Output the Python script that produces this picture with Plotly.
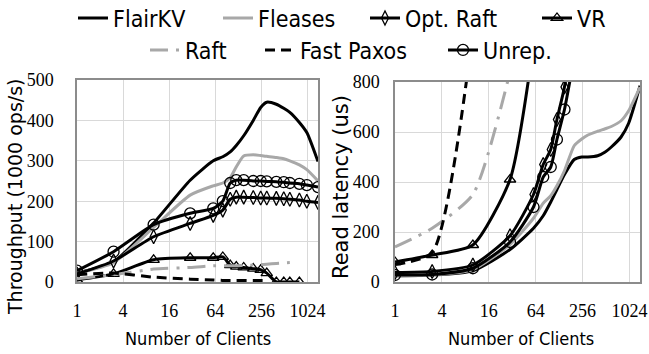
import plotly.graph_objects as go

# ---------------- data ----------------
clients = [1, 3, 10, 30, 60, 80, 100, 120, 150, 200, 250, 300, 400, 500, 600, 800, 1000, 1400]
x_ticks = [1, 4, 16, 64, 256, 1024]
x_tick_labels = ["1", "4", "16", "64", "256", "1024"]

# throughput (1000 ops/s)
flair_tp = [22, 50, 146, 252, 300, 310, 322, 338, 362, 400, 432, 445, 440, 430, 420, 395, 370, 298]
fleases_tp = [22, 48, 135, 215, 238, 245, 258, 285, 312, 315, 313, 311, 308, 305, 300, 290, 278, 250]
optraft_tp = [20, 52, 112, 145, 165, 178, 205, 210, 210, 209, 208, 208, 207, 206, 205, 203, 200, 197]
vr_tp = [5, 20, 55, 60, 60, 62, 42, 38, 36, 33, 30, 22, 0, 0, 0, 0]
raft_tp = [8, 18, 32, 36, 40, 40, 40, 40, 41, 42, 43, 44, 46, 47, 48]
fastpaxos_tp = [18, 22, 12, 7, 5, 4, 4, 4, 4, 4, 4, 4]
unrep_tp = [28, 75, 142, 170, 182, 200, 245, 252, 252, 250, 250, 249, 248, 247, 245, 243, 240, 235]

# read latency (us)
flair_lat = [25, 28, 45, 130, 215, 265, 320, 370, 430, 490, 500, 500, 505, 520, 540, 580, 635, 785]
fleases_lat = [25, 28, 50, 150, 255, 315, 345, 385, 445, 545, 572, 588, 603, 613, 622, 645, 685, 780]
optraft_lat = [38, 42, 68, 185, 350, 470, 530, 650, 780, 1050]
vr_lat = [80, 108, 148, 410, 950]
raft_lat = [140, 215, 350, 840]
fastpaxos_lat = [70, 118, 1000]
unrep_lat = [28, 30, 55, 160, 300, 420, 460, 570, 690, 900]

# ---------------- styling ----------------
W, H = 649, 354
def cx(p):
    return p / W
def cy(p):
    return 1 - p / H

BLACK = "black"
GRAY = "#a8a8a8"
series = [
    dict(name="FlairKV", color=BLACK, dash="solid", symbol=None, tp=flair_tp, lat=flair_lat, lx=73, ly=18),
    dict(name="Fleases", color=GRAY, dash="solid", symbol=None, tp=fleases_tp, lat=fleases_lat, lx=218, ly=18),
    dict(name="Opt. Raft", color=BLACK, dash="solid", symbol="diamond-tall-open", tp=optraft_tp, lat=optraft_lat, lx=365, ly=18),
    dict(name="VR", color=BLACK, dash="solid", symbol="triangle-up-open", tp=vr_tp, lat=vr_lat, lx=537, ly=18),
    dict(name="Raft", color=GRAY, dash="18px,8px,3px,8px", symbol=None, tp=raft_tp, lat=raft_lat, lx=145, ly=50),
    dict(name="Fast Paxos", color=BLACK, dash="10px,6px", symbol=None, tp=fastpaxos_tp, lat=fastpaxos_lat, lx=260, ly=50),
    dict(name="Unrep.", color=BLACK, dash="solid", symbol="circle-open", tp=unrep_tp, lat=unrep_lat, lx=443, ly=50),
]

LEG_FONT = dict(family="DejaVu Sans Condensed, DejaVu Sans", size=23, color="black")
fig = go.Figure()
layout_legends = {}
for i, s in enumerate(series):
    leg = "legend" if i == 0 else f"legend{i+1}"
    mode = "lines+markers" if s["symbol"] else "lines"
    marker = dict(symbol=s["symbol"], size=11 if "circle" in (s["symbol"] or "") else 10,
                  color=BLACK, line=dict(color=BLACK, width=1.3)) if s["symbol"] else None
    line = dict(color=s["color"], width=3, dash=s["dash"], shape="spline", smoothing=0.6)
    fig.add_trace(go.Scatter(x=clients[:len(s["tp"])], y=s["tp"], name=s["name"], mode=mode,
                             line=line, marker=marker, legend=leg, showlegend=True,
                             xaxis="x", yaxis="y"))
    fig.add_trace(go.Scatter(x=clients[:len(s["lat"])], y=s["lat"], name=s["name"], mode=mode,
                             line=line, marker=marker, legend=leg, showlegend=False,
                             xaxis="x2", yaxis="y2"))
    layout_legends[leg] = dict(x=cx(s["lx"]), y=cy(s["ly"]), xref="container", yref="container",
                               xanchor="left", yanchor="middle", orientation="h",
                               font=LEG_FONT, bgcolor="rgba(0,0,0,0)", itemwidth=30,
                               borderwidth=0)

TICK_FONT = dict(family="Liberation Serif, Times New Roman, serif", size=18, color="black")
GRID = "#d9d9d9"
BORDER = "#8c8c8c"
xcommon = dict(type="log", range=[0, 3.146], tickvals=x_ticks, ticktext=x_tick_labels,
               showgrid=True, gridcolor=GRID, gridwidth=1, showline=True, mirror=True,
               linecolor=BORDER, linewidth=1.5, ticks="", tickfont=TICK_FONT,
               ticklabelstandoff=12, zeroline=False, automargin=False)
ycommon = dict(showgrid=True, gridcolor=GRID, gridwidth=1, showline=True, mirror=True,
               linecolor=BORDER, linewidth=1.5, ticks="", tickfont=TICK_FONT, zeroline=False,
               automargin=False)

fig.update_layout(
    width=W, height=H,
    margin=dict(l=0, r=0, t=0, b=0, autoexpand=False),
    paper_bgcolor="white", plot_bgcolor="white",
    xaxis=dict(domain=[cx(77), cx(318)], anchor="y", **xcommon),
    yaxis=dict(domain=[cy(282), cy(80)], anchor="x", range=[0, 500], dtick=100,
               ticklabelstandoff=18, **ycommon),
    xaxis2=dict(domain=[cx(395), cx(640)], anchor="y2", **xcommon),
    yaxis2=dict(domain=[cy(282), cy(82)], anchor="x2", range=[0, 800], dtick=200,
                ticklabelstandoff=10, **ycommon),
    **layout_legends,
)

TITLE_FONT = dict(family="DejaVu Sans Condensed, DejaVu Sans", size=18, color="black")
fig.add_annotation(text="Number of Clients", x=cx(197.5), y=cy(338.5), xref="paper", yref="paper",
                   showarrow=False, font=TITLE_FONT, xanchor="center", yanchor="middle")
fig.add_annotation(text="Number of Clients", x=cx(521), y=cy(338.5), xref="paper", yref="paper",
                   showarrow=False, font=TITLE_FONT, xanchor="center", yanchor="middle")
fig.add_annotation(text="Throughput (1000 ops/s)", x=cx(15), y=cy(197), xref="paper", yref="paper",
                   showarrow=False, textangle=-90, xanchor="center", yanchor="middle",
                   font=dict(family="DejaVu Sans", size=19, color="black"))
fig.add_annotation(text="Read latency (us)", x=cx(341), y=cy(187), xref="paper", yref="paper",
                   showarrow=False, textangle=-90, xanchor="center", yanchor="middle",
                   font=dict(family="DejaVu Sans", size=21, color="black"))

fig.write_html("out.html", config={"displayModeBar": False},
               post_script="document.body.style.margin='0';")
